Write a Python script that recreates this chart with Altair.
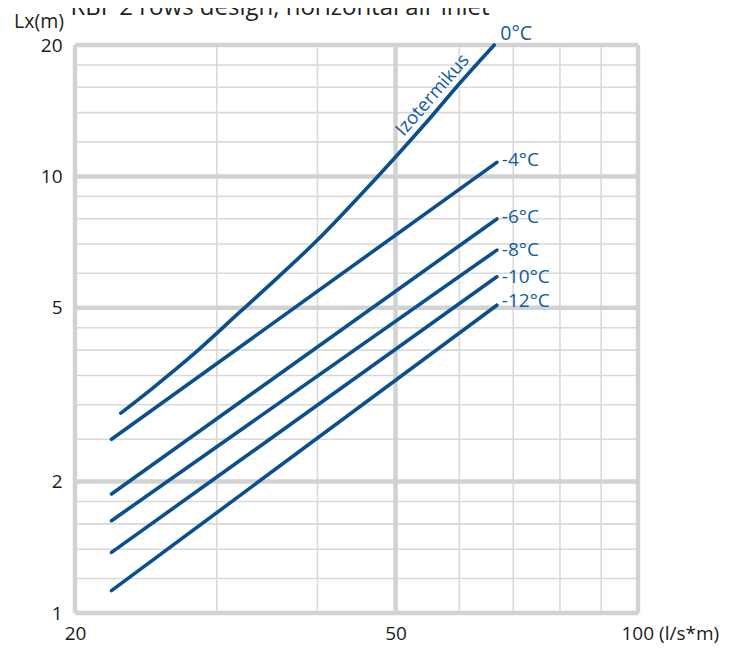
import altair as alt
import pandas as pd

# ---- data ----
x_ends = [22.2, 66.8]
series_names = ["-4°C", "-6°C", "-8°C", "-10°C", "-12°C"]
y_start = [2.50, 1.874, 1.627, 1.377, 1.125]
y_end = [10.77, 7.99, 6.78, 5.89, 5.07]

iso_name = "0°C"
iso_x = [22.8, 25, 28, 32, 36, 40, 45, 50, 55, 60, 66.3]
iso_y = [2.87, 3.28, 3.9, 4.88, 5.95, 7.15, 8.97, 11.08, 13.5, 16.3, 20.0]

x_major = [20, 50, 100]
x_minor = [30, 40, 60, 70, 80, 90]
y_major = [1, 2, 5, 10, 20]
y_minor = [1.2, 1.4, 1.6, 1.8, 2.5, 3, 3.5, 4, 4.5, 6, 7, 8, 9, 12, 14, 16, 18]

label_dy = [-2, -2, 0, 0, -4]

BLUE = "#0b4f8c"
TBLUE = "#0f5c9e"
GRID = "#d9d9d9"
GRID_MAJOR = "#d2d2d2"
FONT = "Open Sans"

rows = []
for i, name in enumerate(series_names):
    rows.append({"s": name, "x": x_ends[0], "y": y_start[i], "o": 0})
    rows.append({"s": name, "x": x_ends[1], "y": y_end[i], "o": 1})
for j, (xv, yv) in enumerate(zip(iso_x, iso_y)):
    rows.append({"s": iso_name, "x": xv, "y": yv, "o": j})
lines_df = pd.DataFrame(rows)

xs = alt.Scale(type="log", domain=[20, 100], nice=False, zero=False)
ys = alt.Scale(type="log", domain=[1, 20], nice=False, zero=False)

x_axis = alt.Axis(
    values=x_major, title=None, grid=False, ticks=False, domain=False,
    labelFont=FONT, labelFontSize=19, labelColor="#1a1a1a", labelPadding=11,
    labelFlush=False, labelOverlap=False,
    labelExpr="datum.value == 100 ? '100 (l/s*m)' : datum.label",
    labelAlign={"condition": {"test": "datum.value == 100", "value": "left"}, "value": "center"},
    labelOffset={"condition": {"test": "datum.value == 100", "value": -17}, "value": 0},
)
y_axis = alt.Axis(
    values=y_major, title=None, grid=False, ticks=False, domain=False,
    labelFont=FONT, labelFontSize=19, labelColor="#1a1a1a", labelPadding=13,
    labelFlush=False, labelOverlap=False,
    labelExpr="format(datum.value, 'd')",
)


def X(field="x"):
    return alt.X(f"{field}:Q", scale=xs, axis=x_axis)


def Y(field="y"):
    return alt.Y(f"{field}:Q", scale=ys, axis=y_axis)


grid_xmin = alt.Chart(pd.DataFrame({"x": x_minor})).mark_rule(color=GRID, strokeWidth=1.6).encode(x=X())
grid_ymin = alt.Chart(pd.DataFrame({"y": y_minor})).mark_rule(color=GRID, strokeWidth=1.6).encode(y=Y())
grid_xmaj = alt.Chart(pd.DataFrame({"x": x_major})).mark_rule(color=GRID_MAJOR, strokeWidth=4.5).encode(x=X())
grid_ymaj = alt.Chart(pd.DataFrame({"y": y_major})).mark_rule(color=GRID_MAJOR, strokeWidth=4.5).encode(y=Y())

lines = alt.Chart(lines_df).mark_line(color=BLUE, strokeWidth=3.6, strokeCap="round", interpolate="monotone").encode(
    x=X(), y=Y(), detail="s:N", order="o:Q",
)

label_layers = []
for i, name in enumerate(series_names):
    ldf = pd.DataFrame({"x": [x_ends[1]], "y": [y_end[i]], "t": [name]})
    label_layers.append(
        alt.Chart(ldf).mark_text(align="left", baseline="middle", dx=5, dy=label_dy[i],
                                 font=FONT, fontSize=19, color=TBLUE).encode(
            x=X(), y=Y(), text="t:N"))

iso_lbl = alt.Chart(pd.DataFrame({"x": [iso_x[-1]], "y": [iso_y[-1]], "t": [iso_name]})).mark_text(
    align="left", baseline="middle", dx=6, dy=-11, font=FONT, fontSize=19.5, color=TBLUE).encode(
    x=X(), y=Y(), text="t:N")

izo = alt.Chart(pd.DataFrame({"x": [57.0], "y": [14.75], "t": ["Izotermikus"]})).mark_text(
    align="center", baseline="alphabetic", angle=311, dy=-6, font=FONT, fontSize=18.5, color=TBLUE).encode(
    x=X(), y=Y(), text="t:N")

title_txt = alt.Chart(pd.DataFrame({"t": ["RBF 2 rows design, horizontal air inlet"]})).mark_text(
    align="center", baseline="alphabetic", font=FONT, fontSize=24, color="#222222").encode(
    x=alt.value(205), y=alt.value(-30), text="t:N")

ylab_txt = alt.Chart(pd.DataFrame({"t": ["Lx(m)"]})).mark_text(
    align="right", baseline="middle", font=FONT, fontSize=19.5, color="#222222").encode(
    x=alt.value(-11), y=alt.value(-23), text="t:N")

chart = alt.layer(
    grid_xmin, grid_ymin, grid_xmaj, grid_ymaj, lines, *label_layers, iso_lbl, izo, title_txt, ylab_txt
).properties(
    width=563, height=568,
    autosize=alt.AutoSizeParams(type="none"),
    padding={"left": 67, "top": 37, "right": 93, "bottom": 36},
).configure_view(stroke=None).configure(background="white")

chart.save("out.html", embed_options={"renderer": "svg", "actions": False})
